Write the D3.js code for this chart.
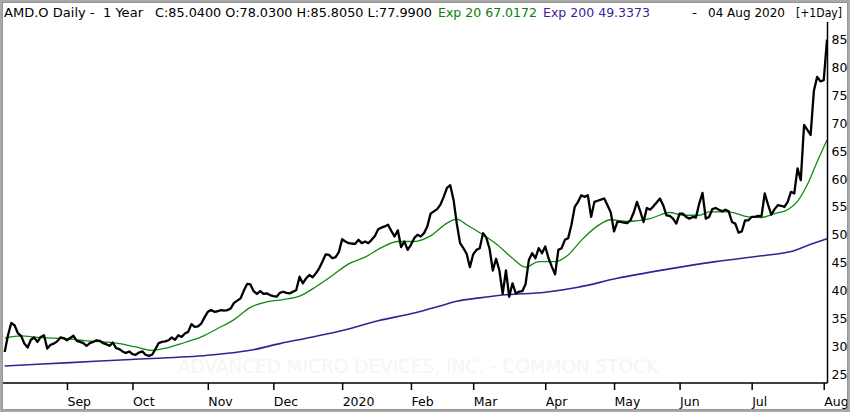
<!DOCTYPE html>
<html>
<head>
<meta charset="utf-8">
<script src="https://cdn.jsdelivr.net/npm/d3@7/dist/d3.min.js"></script>
<style>
    html, body { margin: 0; padding: 0; background: #ffffff; }
    svg { display: block; }
</style>
</head>
<body>
<div id="chart"></div>
<script>
// 1. DATOS (cierres diarios, 06 Aug 2019 -> 04 Aug 2020)
const closes = [
    29.0, 32.0, 34.2, 33.8, 32.4, 31.9, 30.5, 29.8, 31.2, 31.6,
    30.8, 31.7, 32.0, 29.6, 30.3, 30.5, 30.9, 31.6, 31.5, 31.1,
    31.5, 31.9, 31.0, 30.8, 30.6, 30.1, 30.6, 30.8, 31.1, 31.0,
    30.6, 30.4, 30.1, 30.7, 29.7, 29.5, 29.1, 28.8, 29.1, 28.6,
    28.5, 28.9, 29.1, 28.5, 28.3, 28.5, 29.5, 30.6, 30.8, 30.9,
    31.1, 31.6, 31.2, 32.0, 31.7, 32.3, 32.6, 34.0, 33.5, 33.6,
    34.1, 35.2, 36.2, 36.5, 36.2, 36.3, 36.5, 36.4, 36.5, 36.8,
    37.8, 38.2, 38.6, 40.0, 41.2, 41.1, 39.9, 39.4, 39.9, 39.4,
    39.5, 39.2, 39.0, 38.9, 39.6, 39.8, 39.6, 39.5, 39.8, 40.1,
    42.5, 41.3, 42.2, 42.8, 42.4, 43.1, 44.0, 45.2, 46.5, 46.4,
    45.8, 46.0, 46.9, 49.2, 48.8, 48.5, 48.4, 48.4, 49.1, 48.5,
    48.8, 48.5, 49.1, 49.8, 51.0, 51.3, 51.5, 51.8, 50.7, 49.7,
    50.8, 47.8, 48.8, 47.3, 48.2, 49.4, 50.0, 49.7, 50.3, 51.5,
    53.8, 54.2, 54.6, 55.4, 56.8, 58.4, 58.9, 56.3, 52.0, 48.5,
    47.6, 46.6, 44.2, 46.5, 47.3, 47.6, 50.3, 49.5, 47.5, 43.6,
    45.7, 43.6, 39.4, 43.6, 38.9, 41.3, 39.5, 39.8, 39.9, 41.2,
    45.5, 46.7, 45.8, 47.6, 46.7, 47.9, 45.8, 44.3, 42.9, 47.3,
    47.6, 49.1, 49.4, 51.8, 55.0, 55.9, 57.1, 56.8, 57.1, 53.2,
    55.9, 56.1, 56.3, 56.5, 55.3, 54.0, 50.6, 52.3, 52.3, 52.2,
    52.1, 52.6, 54.0, 55.9, 54.2, 52.3, 54.8, 54.5, 55.1, 55.8,
    56.5, 55.3, 53.5, 53.4, 52.9, 52.0, 53.8, 53.8, 53.2, 52.9,
    53.2, 53.1, 55.6, 57.5, 52.9, 53.2, 54.6, 54.8, 54.5, 54.2,
    54.5, 54.2, 52.3, 52.0, 50.4, 50.6, 52.6, 52.6, 53.2, 53.2,
    53.4, 53.3, 57.4, 55.4, 53.6, 54.6, 55.3, 55.2, 55.0, 55.9,
    57.7, 57.4, 61.9, 59.8, 69.7, 68.8, 67.9, 75.8, 78.3, 77.5,
    77.7, 85.0
];

// media exponencial 20 (dia de sesion, valor)
const ema20Days = [0, 5, 10, 15, 20, 25, 30, 35, 40, 45, 50, 55, 60, 65, 70, 75, 80, 85, 90, 95,
    100, 105, 110, 115, 120, 125, 130, 135, 138, 141, 146, 150, 155, 159, 163, 168, 172, 176,
    181, 185, 190, 197, 203, 207, 212, 215, 221, 227, 231, 235, 239, 242, 245, 248, 251];
const ema20Vals = [31.5, 31.9, 31.6, 31.5, 31.3, 31.0, 30.8, 30.5, 29.9, 29.3, 29.8, 30.7, 31.7, 33.2, 34.8, 37.0, 38.0, 38.4, 39.0, 40.7,
    42.7, 44.8, 46.0, 47.7, 48.8, 48.8, 49.8, 52.1, 52.8, 51.8, 50.0, 48.4, 45.8, 44.2, 45.2, 45.2, 46.4, 49.0,
    51.6, 52.7, 52.4, 52.9, 54.0, 53.5, 53.5, 54.1, 54.1, 53.2, 53.1, 53.8, 54.5, 56.0, 59.0, 63.1, 67.0];

// media exponencial 200
const ema200Days = [0, 20, 40, 62, 75, 84, 94, 104, 114, 125, 132, 138, 145, 152, 165, 175, 187, 202, 217, 232, 240, 246, 251];
const ema200Vals = [26.5, 27.1, 27.7, 28.4, 29.3, 30.5, 31.7, 33.0, 34.6, 36.0, 37.1, 38.1, 38.7, 39.2, 39.7, 40.6, 42.2, 43.8, 45.2, 46.3, 47.0, 48.3, 49.3];

// ejes
const monthLabels = ["Sep", "Oct", "Nov", "Dec", "2020", "Feb", "Mar", "Apr", "May", "Jun", "Jul", "Aug"];
const monthDays = [19, 39, 62, 82, 103, 124, 143, 165, 186, 206, 228, 250];
const priceTicks = [25, 30, 35, 40, 45, 50, 55, 60, 65, 70, 75, 80, 85];

// cabecera
const headerTexts = ["AMD.O Daily -  1 Year", "C:85.0400 O:78.0300 H:85.8050 L:77.9900", "Exp 20 67.0172", "Exp 200 49.3373", "-", "04 Aug 2020", "[+1Day]"];

// 2. CONFIGURACION
const width = 850;
const height = 412;
const plot = { left: 3, right: 827.5, top: 22, bottom: 383 };

const PRICE_COLOR = "#000000";
const EMA20_COLOR = "#118a11";
const EMA200_COLOR = "#3c1f94";
const FONT = "'DejaVu Sans', Verdana, sans-serif";

// posicion y ancho de cada trozo de la cabecera
const headerLayout = [
    { x: 4, w: 139, color: "#000" },
    { x: 155, w: 277, color: "#000" },
    { x: 438, w: 99, color: "#0a7d0a" },
    { x: 543, w: 107, color: EMA200_COLOR },
    { x: 692, w: 5, color: "#000" },
    { x: 708, w: 77, color: "#000" },
    { x: 796, w: 46, color: "#000" }
];

const svg = d3.select("#chart").append("svg")
    .attr("width", width).attr("height", height);

svg.append("rect").attr("width", width).attr("height", height).attr("fill", "#ffffff");

const x = d3.scaleLinear().domain([0, closes.length - 1]).range([4.7, 827]);
const y = d3.scaleLinear().domain([25, 85]).range([374.3, 39.5]);

svg.append("defs").append("clipPath").attr("id", "plot-clip")
    .append("rect")
    .attr("x", plot.left).attr("y", plot.top)
    .attr("width", plot.right - plot.left).attr("height", plot.bottom - plot.top);

// marca de agua
svg.append("text")
    .attr("x", 178).attr("y", 373)
    .attr("textLength", 480).attr("lengthAdjust", "spacingAndGlyphs")
    .style("font-family", FONT).style("font-size", "19px")
    .style("fill", "#f5f5f5")
    .text("ADVANCED MICRO DEVICES, INC. - COMMON STOCK");

// 3. LINEAS
const g = svg.append("g").attr("clip-path", "url(#plot-clip)");

const smooth = d3.line()
    .x(d => x(d[0])).y(d => y(d[1]))
    .curve(d3.curveMonotoneX);

g.append("path")
    .datum(ema200Days.map((d, i) => [d, ema200Vals[i]]))
    .attr("d", smooth)
    .style("fill", "none").style("stroke", EMA200_COLOR).style("stroke-width", 1.6);

g.append("path")
    .datum(ema20Days.map((d, i) => [d, ema20Vals[i]]))
    .attr("d", smooth)
    .style("fill", "none").style("stroke", EMA20_COLOR).style("stroke-width", 1.3);

g.append("path")
    .datum(closes)
    .attr("d", d3.line().x((d, i) => x(i)).y(d => y(d)))
    .style("fill", "none").style("stroke", PRICE_COLOR)
    .style("stroke-width", 2.3).style("stroke-linejoin", "round");

// 4. EJES
svg.append("line")
    .attr("x1", plot.left).attr("x2", plot.right)
    .attr("y1", plot.bottom).attr("y2", plot.bottom)
    .style("stroke", "#000").style("stroke-width", 1.5);

svg.append("line")
    .attr("x1", plot.right).attr("x2", plot.right)
    .attr("y1", plot.top).attr("y2", plot.bottom)
    .style("stroke", "#000").style("stroke-width", 1.5);

const xAxis = svg.append("g")
    .attr("transform", `translate(0,${plot.bottom})`)
    .call(d3.axisBottom(x).tickValues(monthDays)
        .tickFormat((d, i) => monthLabels[i]).tickSize(7).tickPadding(7));
xAxis.select(".domain").remove();
xAxis.selectAll("line").style("stroke", "#000").style("stroke-width", 1.5);
xAxis.selectAll("text")
    .attr("text-anchor", "start")
    .style("font-family", FONT).style("font-size", "12.5px").style("fill", "#000");

const yAxis = svg.append("g")
    .attr("transform", `translate(${plot.right},0)`)
    .call(d3.axisRight(y).tickValues(priceTicks).tickSize(0).tickPadding(4));
yAxis.select(".domain").remove();
yAxis.selectAll("text")
    .style("font-family", FONT).style("font-size", "12.5px").style("fill", "#000");

// 5. CABECERA
svg.append("g").selectAll("text")
    .data(headerTexts)
    .join("text")
    .attr("x", (d, i) => headerLayout[i].x)
    .attr("y", 17)
    .attr("textLength", (d, i) => headerLayout[i].w)
    .attr("lengthAdjust", "spacingAndGlyphs")
    .style("white-space", "pre")
    .style("font-family", FONT).style("font-size", "13px")
    .style("fill", (d, i) => headerLayout[i].color)
    .text(d => d);

// marco exterior
svg.append("rect")
    .attr("x", 1).attr("y", 1).attr("width", width - 2).attr("height", height - 2)
    .style("fill", "none").style("stroke", "#a9a9a9").style("stroke-width", 2);
svg.append("rect")
    .attr("x", 2.5).attr("y", 2.5).attr("width", width - 5).attr("height", height - 5)
    .style("fill", "none").style("stroke", "#7d7d7d").style("stroke-width", 0.8);
</script>
</body>
</html>
